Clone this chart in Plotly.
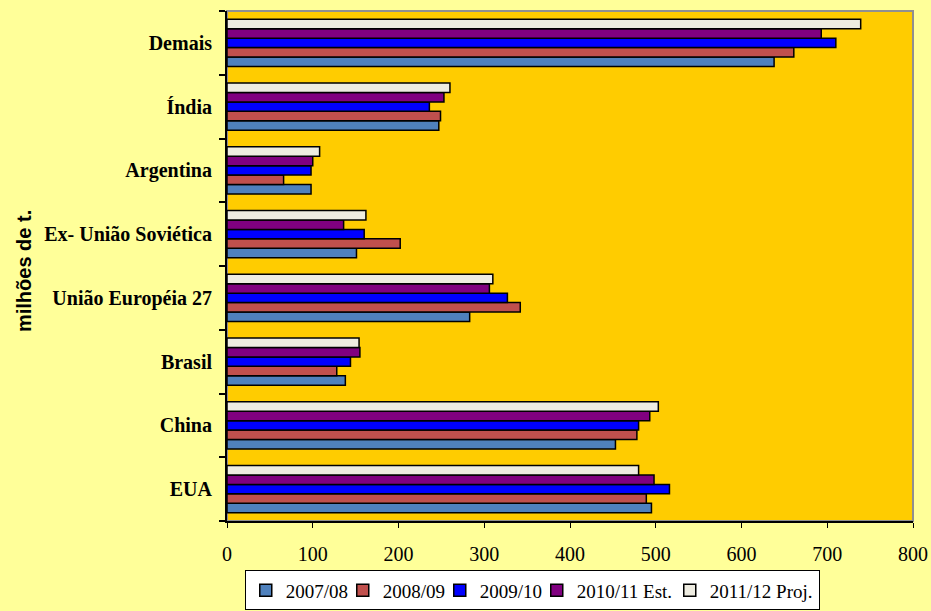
import plotly.graph_objects as go

categories = ["EUA", "China", "Brasil", "União Européia 27", "Ex- União Soviética",
              "Argentina", "Índia", "Demais"]
series_names = ["2007/08", "2008/09", "2009/10", "2010/11 Est.", "2011/12 Proj."]
v2007 = [495, 453, 138, 283, 151, 98, 247, 638]
v2008 = [489, 478, 128, 342, 202, 66, 249, 661]
v2009 = [516, 480, 144, 327, 160, 98, 236, 710]
v2010 = [498, 493, 155, 306, 136, 100, 253, 693]
v2011 = [480, 503, 154, 310, 162, 108, 260, 739]
series_values = [v2007, v2008, v2009, v2010, v2011]
colors = ["#4F81BD", "#C0504D", "#0000FF", "#800080", "#EEECE1"]
legend_widths = [52, 52, 52, 88, 104]
x_ticks = [0, 100, 200, 300, 400, 500, 600, 700, 800]

fig = go.Figure()
for name, vals, col, lw in zip(series_names, series_values, colors, legend_widths):
    fig.add_trace(go.Bar(
        y=categories, x=vals, name=name, orientation="h",
        marker=dict(color=col, line=dict(color="#000000", width=1.5)),
        legendwidth=lw,
    ))

fig.update_layout(
    width=931, height=611,
    margin=dict(l=227, r=18, t=11, b=90, autoexpand=False),
    paper_bgcolor="#FFFF99",
    plot_bgcolor="#FFCC00",
    barmode="group",
    bargap=0.26,
    bargroupgap=0,
    showlegend=True,
    legend=dict(
        orientation="h", x=0.445, xanchor="center", y=-0.097, yanchor="top",
        bgcolor="#FFFFFF", bordercolor="#000000", borderwidth=1,
        font=dict(family="Liberation Serif", size=19, color="#000000"),
        traceorder="normal", itemwidth=30,
    ),
    xaxis=dict(
        range=[0, 800], tickvals=x_ticks, showgrid=False, zeroline=False,
        showline=True, linecolor="#000000", linewidth=2,
        ticks="outside", ticklen=5, tickcolor="#000000", tickwidth=1,
        tickfont=dict(family="Liberation Serif", size=20, color="#000000"),
        ticklabelstandoff=9, automargin=False,
    ),
    yaxis=dict(
        showgrid=False, zeroline=False, tickson="boundaries",
        showline=True, linecolor="#000000", linewidth=2,
        ticks="outside", ticklen=6, tickcolor="#000000", tickwidth=1.5,
        tickfont=dict(family="Liberation Serif", size=20, color="#000000", weight="bold"),
        ticklabelstandoff=9, automargin=False,
    ),
    shapes=[dict(type="rect", xref="paper", yref="paper", x0=0, x1=1, y0=0, y1=1,
                 line=dict(color="#909090", width=2), layer="below")],
    annotations=[dict(
        text="<b>milhões de t.</b>", xref="paper", yref="paper",
        x=-0.296, y=0.49, xanchor="center", yanchor="middle",
        textangle=-90, showarrow=False,
        font=dict(family="Liberation Sans", size=20, color="#000000"),
    )],
)

fig.write_html("out.html")
